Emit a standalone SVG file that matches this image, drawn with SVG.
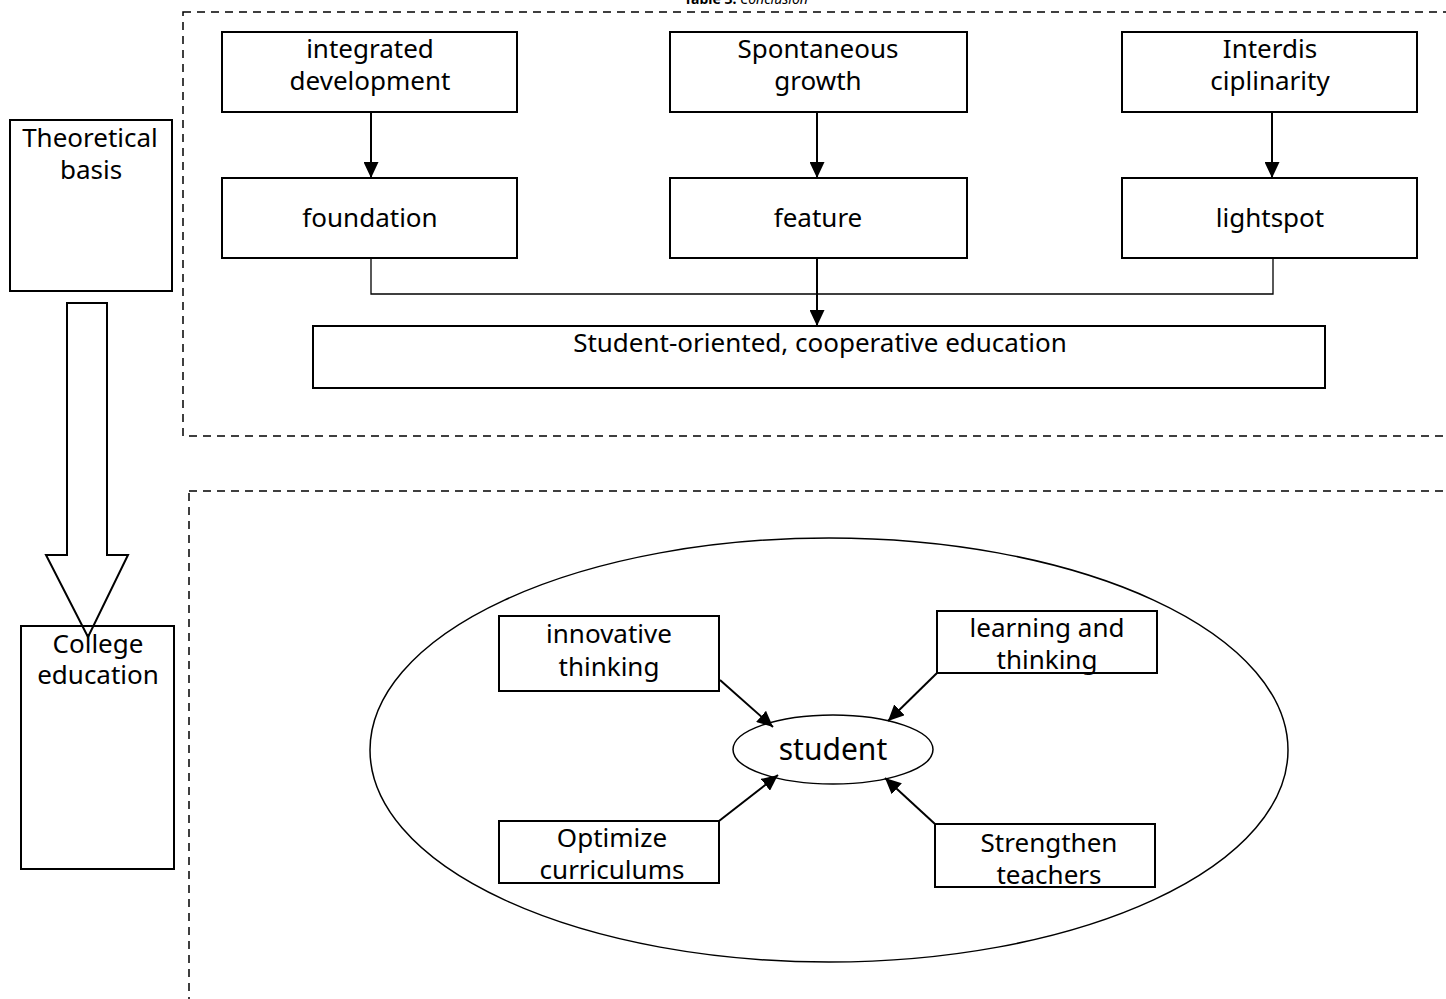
<svg xmlns="http://www.w3.org/2000/svg" width="1446" height="999" viewBox="0 0 1446 999">
<style>
text{font-family:"Noto Sans","Open Sans","DejaVu Sans",sans-serif;fill:#000;text-anchor:middle}
.t{font-size:26px}
.box{fill:#fff;stroke:#000;stroke-width:2}
.dash{fill:none;stroke:#000;stroke-width:1.5;stroke-dasharray:8 6}
.ln{fill:none;stroke:#000;stroke-width:2}
.thin{fill:none;stroke:#000;stroke-width:1.3}
</style>
<defs>
<marker id="ah" viewBox="0 0 10 10" refX="10" refY="5" markerWidth="8" markerHeight="7.5" markerUnits="strokeWidth" orient="auto" preserveAspectRatio="none">
<path d="M0,0 L10,5 L0,10 Z" fill="#000"/>
</marker>
</defs>
<rect width="1446" height="999" fill="#fff"/>
<text x="746" y="4" style="font-size:14px"><tspan font-weight="bold">Table 3.</tspan> <tspan font-style="italic">Conclusion</tspan></text>
<g id="frames">
<rect class="dash" x="183" y="12" width="1300" height="424"/>
<rect class="dash" x="189" y="491" width="1300" height="560"/>
</g>
<g id="theoretical-basis">
<rect class="box" x="10" y="120" width="162" height="171"/>
<text class="t" x="90" y="147">Theoretical</text>
<text class="t" x="91" y="179">basis</text>
</g>
<g id="college-education">
<rect class="box" x="21" y="626" width="153" height="243"/>
<text class="t" x="98" y="653">College</text>
<text class="t" x="98" y="684">education</text>
</g>
<g id="block-arrow">
<path d="M67,303 L107,303 L107,555 L128,555 L88,637 L46,555 L67,555 Z" fill="none" stroke="#000" stroke-width="2"/>
</g>
<g id="integrated-development">
<rect class="box" x="222" y="32" width="295" height="80"/>
<text class="t" x="370" y="58">integrated</text>
<text class="t" x="370" y="90">development</text>
</g>
<g id="spontaneous-growth">
<rect class="box" x="670" y="32" width="297" height="80"/>
<text class="t" x="818" y="58">Spontaneous</text>
<text class="t" x="818" y="90">growth</text>
</g>
<g id="interdisciplinarity">
<rect class="box" x="1122" y="32" width="295" height="80"/>
<text class="t" x="1270" y="58">Interdis</text>
<text class="t" x="1270" y="90">ciplinarity</text>
</g>
<g id="foundation">
<rect class="box" x="222" y="178" width="295" height="80"/>
<text class="t" x="370" y="227">foundation</text>
</g>
<g id="feature">
<rect class="box" x="670" y="178" width="297" height="80"/>
<text class="t" x="818" y="227">feature</text>
</g>
<g id="lightspot">
<rect class="box" x="1122" y="178" width="295" height="80"/>
<text class="t" x="1270" y="227">lightspot</text>
</g>
<g id="student-oriented">
<rect class="box" x="313" y="326" width="1012" height="62"/>
<text class="t" x="820" y="352">Student-oriented, cooperative education</text>
</g>
<g id="outer-ellipse">
<ellipse cx="829" cy="750" rx="459" ry="212" fill="none" stroke="#000" stroke-width="1.5"/>
</g>
<g id="student">
<ellipse cx="833" cy="749.5" rx="100" ry="34.5" fill="#fff" stroke="#000" stroke-width="1.5"/>
<text x="833" y="760" style="font-size:30px">student</text>
</g>
<g id="innovative-thinking">
<rect class="box" x="499" y="616" width="220" height="75"/>
<text class="t" x="609" y="643">innovative</text>
<text class="t" x="609" y="676">thinking</text>
</g>
<g id="learning-thinking">
<rect class="box" x="937" y="611" width="220" height="62"/>
<text class="t" x="1047" y="637">learning and</text>
<text class="t" x="1047" y="669">thinking</text>
</g>
<g id="optimize-curriculums">
<rect class="box" x="499" y="821" width="220" height="62"/>
<text class="t" x="612" y="847">Optimize</text>
<text class="t" x="612" y="879">curriculums</text>
</g>
<g id="strengthen-teachers">
<rect class="box" x="935" y="824" width="220" height="63"/>
<text class="t" x="1049" y="852">Strengthen</text>
<text class="t" x="1049" y="884">teachers</text>
</g>
<g id="connectors">
<line class="ln" x1="371" y1="112" x2="371" y2="178" marker-end="url(#ah)"/>
<line class="ln" x1="817" y1="112" x2="817" y2="178" marker-end="url(#ah)"/>
<line class="ln" x1="1272" y1="112" x2="1272" y2="178" marker-end="url(#ah)"/>
<polyline class="thin" points="371,258 371,294 1273,294 1273,258"/>
<line class="ln" x1="817" y1="258" x2="817" y2="326" marker-end="url(#ah)"/>
<line class="ln" x1="720" y1="680" x2="773" y2="727" marker-end="url(#ah)"/>
<line class="ln" x1="937" y1="673" x2="888" y2="721" marker-end="url(#ah)"/>
<line class="ln" x1="719" y1="821" x2="778" y2="775" marker-end="url(#ah)"/>
<line class="ln" x1="935" y1="824" x2="885" y2="778" marker-end="url(#ah)"/>
</g>
</svg>
